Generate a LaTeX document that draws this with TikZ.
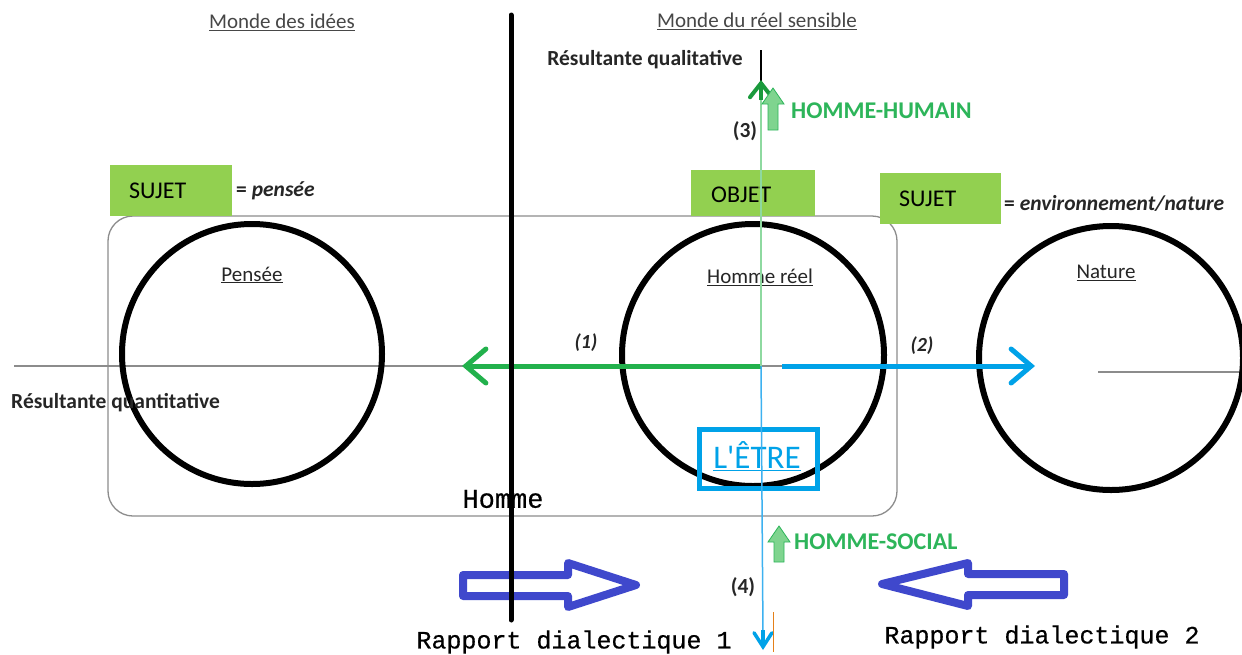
\documentclass[tikz,border=0pt]{standalone}
\usepackage{fontspec}
\setmainfont{Carlito}
\newfontfamily\monofam[FakeBold=0.4]{Liberation Mono}
\newfontfamily\carlplain[Ligatures=TeXOff]{Carlito}
\usetikzlibrary{arrows.meta}
\definecolor{boxgreen}{HTML}{92D050}
\definecolor{arrgreen}{HTML}{22B14C}
\definecolor{darkgreen}{HTML}{1A9A3C}
\definecolor{txtgreen}{HTML}{2DB55A}
\definecolor{lightgreen}{HTML}{8ED9A0}
\definecolor{paleblockgreen}{HTML}{7FD48F}
\definecolor{arrblue}{HTML}{00A2E8}
\definecolor{lineblue}{HTML}{3DB1F0}
\definecolor{indigo}{HTML}{3F48CC}
\definecolor{dark}{HTML}{262626}
\definecolor{midgray}{HTML}{8C8C8C}
\tikzset{
  lbl/.style={inner sep=0pt, text=dark, font=\fontsize{21}{25}\selectfont},
  blbl/.style={inner sep=0pt, text=dark, font=\fontsize{21.5}{25}\selectfont\bfseries},
  gbox/.style={fill=boxgreen, draw=none},
  gtxt/.style={inner sep=0pt, anchor=west, text=black, font=\fontsize{24}{28}\selectfont},
  bigcircle/.style={draw=black, line width=6pt},
  htxt/.style={inner sep=0pt, anchor=west, text=txtgreen, font=\fontsize{24}{28}\selectfont\bfseries},
  upblock/.style={fill=paleblockgreen, draw=txtgreen, line width=0.8pt},
  hollow/.style={draw=indigo, fill=white, line width=8pt, line join=round},
  monotxt/.style={inner sep=0pt, text=black, font=\monofam\fontsize{25}{28}\selectfont},
  barb/.style={-{Straight Barb[length=20pt,width=34pt,line cap=round]}}
}
\begin{document}
\begin{tikzpicture}[x=1pt,y=-1pt]
\useasboundingbox (0,0) rectangle (1242,654);
\fill[white] (0,0) rectangle (1242,654);
\begin{scope}
\clip (0,0) rectangle (1242,654);

% top labels
\node[lbl, text=dark!85] (mi) at (282,22) {\underline{Monde des idées}};
\node[lbl, text=dark!85] (mr) at (757,21) {\underline{Monde du réel sensible}};
\node[blbl] (rql) at (645,60) {Résultante qualitative};

% rounded rectangle (Homme)
\draw[midgray, line width=1.3pt, rounded corners=25pt] (108,216) rectangle (897,516);

% horizontal gray lines
\coordinate (hl0) at (14,366);
\coordinate (hl1) at (885,366);
\draw[midgray, line width=1.6pt] (hl0) -- (hl1);
\coordinate (hr0) at (1098,372);
\coordinate (hr1) at (1242,372);
\draw[midgray, line width=1.6pt] (hr0) -- (hr1);

% circles
\draw[bigcircle] (252,354) circle[radius=130pt];
\draw[bigcircle] (753,355) circle[radius=131pt];
\draw[bigcircle] (1111,358) circle[radius=132pt];
\node[lbl] (pe) at (252,275) {\underline{Pensée}};
\node[lbl] (hr) at (760,277) {\underline{Homme réel}};
\node[lbl] (na) at (1106,273) {\underline{Nature}};

% green boxes
\fill[gbox] (110,165) rectangle (232,216);
\node[gtxt] (s1) at (129,191) {SUJET};
\node[blbl, anchor=west] (eq1) at (236,191) {= \textit{pensée}};
\fill[gbox] (691,170) rectangle (815,216);
\node[gtxt] (ob) at (711,195) {OBJET};
\fill[gbox] (880,173) rectangle (1001,224);
\node[gtxt] (s2) at (899,199) {SUJET};
\node[blbl, anchor=west] (eq2) at (1004,203) {= \textit{environnement/nature}};

% labels quantitative
\node[blbl, anchor=west] (rqn) at (11,403) {Résultante quantitative};

% Homme text
\node[monotxt, font=\monofam\fontsize{27}{30}\selectfont] (ho) at (503,499) {Homme};

% L'ETRE box
\draw[arrblue, line width=5pt] (699,429) rectangle (817,488);
\node[inner sep=0pt, text=arrblue, font=\carlplain\fontsize{33}{36}\selectfont] (et) at (757,456) {\underline{L'ÊTRE}};

% centre and arrows (1) and (2)
\coordinate (ctr) at (761,366);
\coordinate (g1) at (462,366);
\draw[arrgreen, line width=5pt, barb] (ctr) -- (g1);
\coordinate (b0) at (782,366);
\coordinate (b1) at (1035,366);
\draw[arrblue, line width=5pt, barb] (b0) -- (b1);
\node[blbl, font=\fontsize{20}{24}\selectfont\bfseries\itshape] (n1) at (586,343) {(1)};
\node[blbl, font=\fontsize{20}{24}\selectfont\bfseries\itshape] (n2) at (922,346) {(2)};

% vertical axis
\coordinate (vt) at (761,50);
\coordinate (vh) at (761,100);
\coordinate (vb) at (763,650);
\draw[black, line width=1.2pt] (vt) -- (vh);
\draw[lightgreen, line width=1.8pt] (vh) -- (ctr);
\draw[lineblue, line width=1.5pt] (ctr) -- (763,636);
\draw[arrblue, line width=3.5pt, -{Straight Barb[length=14pt,width=18pt,line cap=round]}] (763,630) -- (vb);
\coordinate (ga) at (761,80);
\draw[darkgreen, line width=4pt, -{Straight Barb[length=14pt,width=22pt,line cap=round]}] (761,100) -- (ga);
\node[blbl] (n3) at (745,131) {(3)};
\node[blbl] (n4) at (743,587) {(4)};
\draw[orange!60!brown, line width=0.8pt] (773,612) -- (773,652);

% HOMME-HUMAIN / HOMME-SOCIAL
\draw[upblock] (773,88) -- (784,104) -- (778,104) -- (778,130) -- (768,130) -- (768,104) -- (762,104) -- cycle;
\node[htxt] (hh) at (791,111) {HOMME-HUMAIN};
\draw[upblock] (779,526) -- (790,542) -- (784,542) -- (784,562) -- (774,562) -- (774,542) -- (768,542) -- cycle;
\node[htxt] (hs) at (794,542) {HOMME-SOCIAL};

% hollow arrows
\draw[hollow] (463,575) -- (568,575) -- (568,563) -- (636,585) -- (568,607) -- (568,596) -- (463,596) -- cycle;
\draw[hollow] (1064,574) -- (968,574) -- (968,563) -- (882,584) -- (968,606) -- (968,595) -- (1064,595) -- cycle;

% thick separator
\coordinate (s0) at (511,15);
\coordinate (s9) at (511,620);
\draw[black, line width=5pt, line cap=round] (s0) -- (s9);

% Rapport labels
\node[monotxt] (rd1) at (574,642) {Rapport dialectique 1};
\node[monotxt] (rd2) at (1042,637) {Rapport dialectique 2};
\end{scope}
\end{tikzpicture}
\end{document}
